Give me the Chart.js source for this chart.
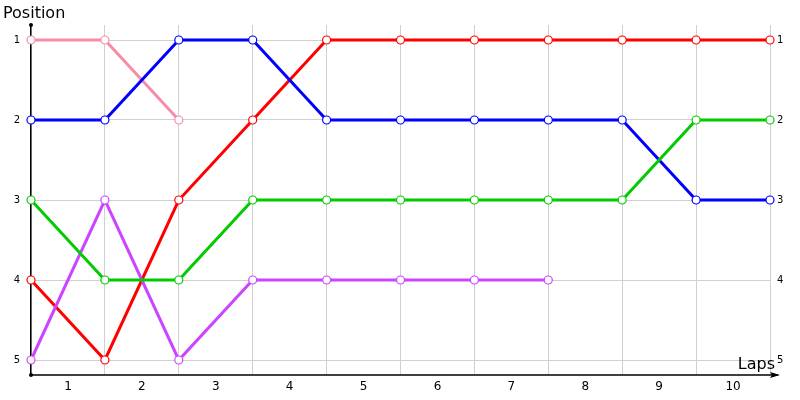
<!DOCTYPE html>
<html>
<head>
<meta charset="utf-8">
<script src="https://cdn.jsdelivr.net/npm/chart.js@4/dist/chart.umd.min.js"></script>
<style>
  html, body { margin: 0; padding: 0; background: #fff; }
  #wrap { width: 800px; height: 400px; }
</style>
</head>
<body>
<div id="wrap"><canvas id="myChart"></canvas></div>
<script>
// laps shown under the axis, positions per lap boundary (0..10)
const lapLabels = ['1', '2', '3', '4', '5', '6', '7', '8', '9', '10'];
const positionTicks = [1, 2, 3, 4, 5];

const pinkPos   = [1, 1, 2];
const bluePos   = [2, 2, 1, 1, 2, 2, 2, 2, 2, 3, 3];
const redPos    = [4, 5, 3, 2, 1, 1, 1, 1, 1, 1, 1];
const greenPos  = [3, 4, 4, 3, 3, 3, 3, 3, 3, 2, 2];
const purplePos = [5, 3, 5, 4, 4, 4, 4, 4];

function toPoints(arr) {
  return arr.map((v, i) => ({ x: i, y: v }));
}

function driver(data, color) {
  return {
    data: toPoints(data),
    borderColor: color,
    borderWidth: 3,
    pointRadius: 4,
    pointHoverRadius: 4,
    pointBackgroundColor: '#fff',
    pointBorderColor: color,
    pointBorderWidth: 1.2,
    tension: 0,
    clip: false
  };
}

const decorations = {
  id: 'decorations',
  afterDraw(chart) {
    const ctx = chart.ctx;
    const area = chart.chartArea;
    ctx.save();
    ctx.fillStyle = '#000';
    ctx.strokeStyle = '#000';
    ctx.lineWidth = 1.5;
    // x axis line with arrow
    ctx.beginPath();
    ctx.moveTo(area.left, area.bottom);
    ctx.lineTo(area.right + 8, area.bottom);
    ctx.stroke();
    ctx.beginPath();
    ctx.moveTo(area.right + 10, area.bottom);
    ctx.lineTo(area.right, area.bottom - 3);
    ctx.lineTo(area.right + 2, area.bottom);
    ctx.lineTo(area.right, area.bottom + 3);
    ctx.closePath();
    ctx.fill();
    // dots on y axis ends
    ctx.beginPath();
    ctx.arc(area.left, area.top, 2, 0, Math.PI * 2);
    ctx.arc(area.left, area.bottom, 2, 0, Math.PI * 2);
    ctx.fill();
    // titles
    ctx.font = '16px "DejaVu Sans", sans-serif';
    ctx.textBaseline = 'middle';
    ctx.textAlign = 'left';
    ctx.fillText('Position', 3, 14);
    ctx.textAlign = 'right';
    ctx.fillText('Laps', area.right + 5, area.bottom - 10);
    ctx.restore();
  }
};

const yRange = { min: 0.8125, max: 5.1875 };

new Chart(document.getElementById('myChart').getContext('2d'), {
  type: 'line',
  data: {
    datasets: [
      driver(greenPos, '#00cc00'),
      driver(purplePos, '#cc44ff'),
      driver(bluePos, '#0000ff'),
      driver(redPos, '#ff0000'),
      driver(pinkPos, '#f78ca8')
    ]
  },
  plugins: [decorations],
  options: {
    responsive: true,
    maintainAspectRatio: false,
    animation: false,
    layout: { padding: { top: 25 } },
    plugins: {
      legend: { display: false },
      tooltip: { enabled: false }
    },
    scales: {
      x: {
        type: 'linear',
        min: 0,
        max: lapLabels.length,
        afterBuildTicks: (scale) => {
          const t = [];
          for (let i = 0; i <= lapLabels.length; i++) {
            t.push({ value: i });
            if (i < lapLabels.length) t.push({ value: i + 0.5 });
          }
          scale.ticks = t;
        },
        ticks: {
          autoSkip: false,
          maxRotation: 0,
          padding: 5,
          color: '#000',
          font: { family: '"DejaVu Sans", sans-serif', size: 12 },
          callback: (v) => (v % 1 === 0.5 ? lapLabels[Math.floor(v)] : '')
        },
        grid: {
          drawTicks: false,
          color: (c) => (c.tick && c.tick.value % 1 === 0 ? '#d0d0d0' : 'rgba(0,0,0,0)')
        },
        border: { display: false },
        afterFit: (scale) => { scale.height = 25; }
      },
      y: {
        type: 'linear',
        reverse: true,
        min: yRange.min,
        max: yRange.max,
        afterBuildTicks: (scale) => { scale.ticks = positionTicks.map(v => ({ value: v })); },
        ticks: {
          color: '#000',
          padding: 11,
          font: { family: '"DejaVu Sans", sans-serif', size: 10 }
        },
        grid: { drawTicks: false, color: '#d0d0d0' },
        border: { display: true, color: '#000', width: 1.5 },
        afterFit: (scale) => { scale.width = 31; }
      },
      y2: {
        type: 'linear',
        position: 'right',
        reverse: true,
        min: yRange.min,
        max: yRange.max,
        afterBuildTicks: (scale) => { scale.ticks = positionTicks.map(v => ({ value: v })); },
        ticks: {
          color: '#000',
          padding: 7,
          font: { family: '"DejaVu Sans", sans-serif', size: 10 }
        },
        grid: { display: false, drawTicks: false },
        border: { display: false },
        afterFit: (scale) => { scale.width = 30; }
      }
    }
  }
});
</script>
</body>
</html>
